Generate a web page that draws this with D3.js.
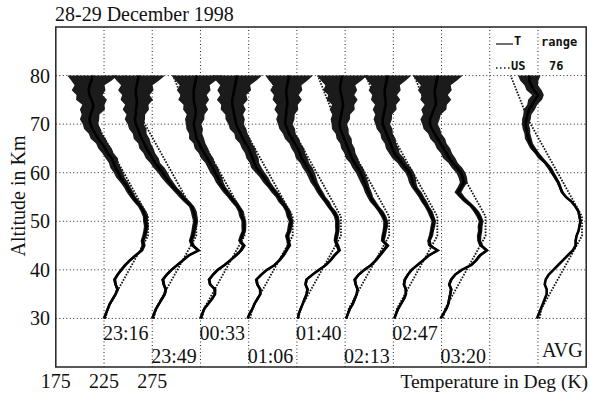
<!DOCTYPE html>
<html>
<head>
<meta charset="utf-8">
<script src="https://cdn.jsdelivr.net/npm/d3@7"></script>
<style>
body { margin: 0; background: #fff; }
svg text { font-family: "Liberation Serif", "Times New Roman", serif; fill: #111; }
</style>
</head>
<body>
<script>
// altitude grid, 1 km steps from 30 to 80 km
var altitudes = d3.range(30, 81);

// run start times, last one is the night average
var runTimes = ["23:16", "23:49", "00:33", "01:06", "01:40", "02:13", "02:47", "03:20", "AVG"];
// each profile is shifted right by this many K
var offsetK = [0, 50, 100, 150, 200, 250, 300, 350, 450];

// temperature (K) per run, one value per km, 30..80
var t2316 = [225,227,229,231,234,237,239,237,236,239,
             243,247,252,258,264,266,265,267,268,269,
             268,268,266,263,259,255,252,249,246,242,
             240,237,235,233,229,226,223,219,216,213,
             211,210,211,213,214,212,210,209,210,212,213];
var t2349 = [225,227,229,232,235,238,239,237,236,240,
             245,251,257,263,273,267,265,267,268,269,
             270,269,268,266,261,256,252,247,243,239,
             236,232,228,225,222,219,217,214,212,210,
             208,207,208,208,209,209,208,208,209,210,211];
var t0033 = [225,227,229,233,237,240,240,235,234,238,
             243,250,256,262,267,270,266,268,270,270,
             270,268,267,264,260,256,252,248,245,243,
             240,238,235,232,229,226,224,221,220,219,
             218,219,220,220,219,218,218,218,219,220,221];
var t0106 = [224,226,229,231,234,237,237,234,233,238,
             244,252,257,261,264,267,266,265,267,268,
             269,267,266,263,259,256,252,248,244,241,
             237,233,231,229,227,225,222,219,217,214,
             212,211,210,209,208,208,209,210,211,212,213];
var t0140 = [226,227,229,231,233,235,236,234,235,241,
             248,255,260,264,269,267,265,266,267,267,
             267,266,263,259,256,252,249,246,243,241,
             239,236,233,230,228,226,223,220,217,215,
             213,213,214,214,215,215,214,214,215,216,217];
var t0213 = [226,228,230,233,235,237,238,236,235,239,
             245,252,257,261,265,269,264,265,266,267,
             267,265,262,258,254,251,249,247,245,243,
             241,238,235,232,230,228,226,224,222,220,
             219,220,221,222,223,222,221,220,220,221,222];
var t0247 = [226,228,230,233,236,238,238,236,237,240,
             244,250,256,262,271,263,262,264,265,266,
             267,265,263,260,257,254,251,247,245,244,
             242,238,234,230,226,224,222,220,218,216,
             214,214,215,216,217,217,216,216,217,218,219];
var t0320 = [224,227,230,232,233,234,235,233,235,239,
             246,256,261,265,272,266,264,264,265,265,
             266,264,261,257,251,246,242,245,248,247,
             245,241,237,233,230,227,224,221,218,215,
             213,213,215,217,219,219,218,218,219,220,221];
var tAvg  = [224,226,228,230,232,234,234,232,233,236,
             241,246,251,256,261,264,264,265,267,268,
             269,268,267,264,260,254,250,248,246,243,
             240,237,233,228,224,220,217,215,214,213,
             212,213,214,216,219,222,225,221,218,216,216];
var runTemps = [t2316, t2349, t0033, t0106, t0140, t0213, t0247, t0320, tAvg];

// half width of the error range (K), per km
var rangeHalf = [1.2,1.2,1.3,1.2,1.4,1.3,1.5,1.4,1.6,1.5,
                 1.7,1.8,1.7,2.0,1.9,2.2,2.0,2.4,2.3,2.6,
                 2.5,2.8,3.0,2.7,3.3,3.1,3.6,3.4,4.0,4.4,
                 4.8,5.5,4.9,6.4,5.8,7.0,6.2,7.8,6.8,8.6,
                 8.0,10.0,9.2,13.0,11.5,16.0,13.5,17.5,15.5,21.0,26.0];
var rangeScale = [1, 1.05, 1, 1, 0.95, 1, 0.95, 1, 0.45];

// US standard atmosphere 1976
var usAlt = [30, 32, 35, 40, 45, 47, 51, 55, 60, 65, 70, 71, 75, 80];
var usT   = [226.65, 228.65, 237.05, 251.05, 265.05, 270.65, 270.65, 259.45, 245.45, 231.45, 217.45, 214.65, 206.65, 196.65];

var xTickLabels = [175, 225, 275];
var yTickLabels = [30, 40, 50, 60, 70, 80];
var gridTemps = [225, 275, 325, 375, 425, 475, 525, 575, 625, 675];

var W = 589, H = 393;
var svg = d3.select('body').append('svg')
  .attr('width', W)
  .attr('height', H);

var x = d3.scaleLinear().domain([175, 725]).range([55.8, 586.2]);
var y = d3.scaleLinear().domain([20, 90]).range([367, 27]);

// dotted grid
var grid = svg.append('g')
  .attr('stroke', '#222')
  .attr('stroke-width', 1)
  .attr('stroke-dasharray', '1,2.5');
grid.selectAll('.hg').data(yTickLabels).enter().append('line')
  .attr('x1', x(175)).attr('x2', x(725))
  .attr('y1', function(d) { return y(d); })
  .attr('y2', function(d) { return y(d); });
grid.selectAll('.vg').data(gridTemps).enter().append('line')
  .attr('y1', y(20)).attr('y2', y(90))
  .attr('x1', function(d) { return x(d); })
  .attr('x2', function(d) { return x(d); });

// US standard curves (dotted), one per profile
var usLine = function(off) {
  return d3.line()
    .x(function(d, i) { return x(usT[i] + off); })
    .y(function(d) { return y(d); })(usAlt);
};
svg.append('g').selectAll('path').data(offsetK).enter().append('path')
  .attr('d', function(d) { return usLine(d); })
  .attr('fill', 'none')
  .attr('stroke', '#111')
  .attr('stroke-width', 1.8)
  .attr('stroke-dasharray', '1.6,1.4');

// range bands
svg.append('g').selectAll('path').data(runTemps).enter().append('path')
  .attr('d', function(temps, k) {
    return d3.area()
      .y(function(a) { return y(a); })
      .x0(function(a, i) { return x(temps[i] - rangeHalf[i] * rangeScale[k] + offsetK[k]); })
      .x1(function(a, i) { return x(temps[i] + rangeHalf[i] * rangeScale[k] + offsetK[k]); })(altitudes);
  })
  .attr('fill', '#1b1b1b');

// measured temperature lines
svg.append('g').selectAll('path').data(runTemps).enter().append('path')
  .attr('d', function(temps, k) {
    return d3.line()
      .x(function(a, i) { return x(temps[i] + offsetK[k]); })
      .y(function(a) { return y(a); })(altitudes);
  })
  .attr('fill', 'none')
  .attr('stroke', '#000')
  .attr('stroke-width', 2.6);

// frame
svg.append('rect')
  .attr('x', x(175)).attr('y', y(90))
  .attr('width', x(725) - x(175)).attr('height', y(20) - y(90))
  .attr('fill', 'none')
  .attr('stroke', '#222')
  .attr('stroke-width', 1.5);

// run labels
svg.append('g').selectAll('text').data(runTimes).enter().append('text')
  .attr('x', function(d, k) { return x(225 + offsetK[k]) + (d == 'AVG' ? 4 : -1); })
  .attr('y', function(d, k) { return d == 'AVG' ? 357 : (k % 2 ? 363 : 340); })
  .attr('font-size', 20)
  .text(function(d) { return d; });

// axes text
svg.append('g').selectAll('text').data(yTickLabels).enter().append('text')
  .attr('x', 50)
  .attr('y', function(d) { return y(d); })
  .attr('dy', '0.35em')
  .attr('text-anchor', 'end')
  .attr('font-size', 20)
  .text(function(d) { return d; });

svg.append('g').selectAll('text').data(xTickLabels).enter().append('text')
  .attr('x', function(d) { return x(d); })
  .attr('y', 388)
  .attr('text-anchor', 'middle')
  .attr('font-size', 20)
  .text(function(d) { return d; });

svg.append('text')
  .attr('x', 588).attr('y', 388)
  .attr('text-anchor', 'end')
  .attr('font-size', 19.5)
  .text('Temperature in Deg (K)');

svg.append('text')
  .attr('transform', 'translate(25,196) rotate(-90)')
  .attr('text-anchor', 'middle')
  .attr('font-size', 20)
  .text('Altitude in Km');

svg.append('text')
  .attr('x', 55).attr('y', 21)
  .attr('font-size', 20)
  .text('28-29 December 1998');

// legend
var legend = svg.append('g');
legend.append('line')
  .attr('x1', 496).attr('x2', 513).attr('y1', 44).attr('y2', 44)
  .attr('stroke', '#111').attr('stroke-width', 1.2);
legend.append('line')
  .attr('x1', 496).attr('x2', 510).attr('y1', 68).attr('y2', 68)
  .attr('stroke', '#111').attr('stroke-width', 1.6)
  .attr('stroke-dasharray', '1.5,2.5');
var legendText = [['T', 514, 45], ['range', 541, 46], ['US', 511, 70], ['76', 549, 70]];
legend.selectAll('text').data(legendText).enter().append('text')
  .attr('x', function(d) { return d[1]; })
  .attr('y', function(d) { return d[2]; })
  .attr('font-size', 12)
  .style('font-family', '"DejaVu Sans Mono", monospace')
  .style('font-weight', 'bold')
  .text(function(d) { return d[0]; });
</script>
</body>
</html>
